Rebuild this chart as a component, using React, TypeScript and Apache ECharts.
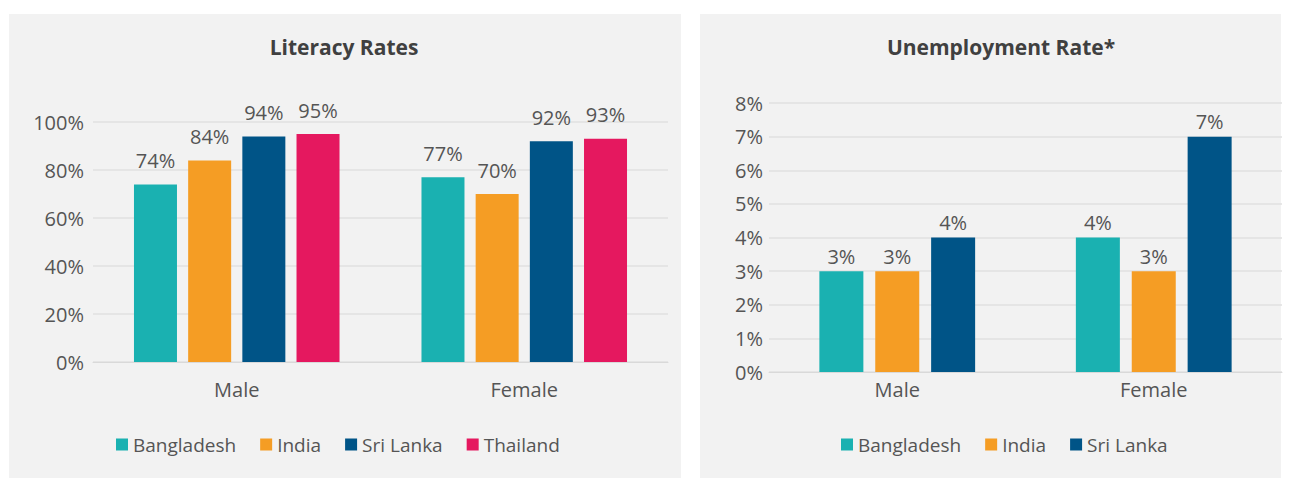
import React, { useEffect, useRef } from "react";
import * as echarts from "echarts";

const categories = ["Male", "Female"];
const litCountries = ["Bangladesh", "India", "Sri Lanka", "Thailand"];
const litBangladesh = [74, 77];
const litIndia = [84, 70];
const litSriLanka = [94, 92];
const litThailand = [95, 93];
const unCountries = ["Bangladesh", "India", "Sri Lanka"];
const unBangladesh = [3, 4];
const unIndia = [3, 3];
const unSriLanka = [4, 7];
const colors = ["#1ab1b1", "#f59d24", "#005487", "#e5185f"];

const TXT = "#555555";
const FONT = "Open Sans";

export default function App() {
  const ref = useRef<HTMLDivElement>(null);
  useEffect(() => {
    const chart = echarts.init(ref.current!, null, { renderer: "svg" });
    const mkLabel = (distance: number) => ({
      show: true,
      position: "top",
      distance,
      formatter: "{c}%",
      color: TXT,
      fontSize: 20,
      fontFamily: FONT,
    });
    const mkSeries = (name: string, data: number[], idx: number, color: string, bw: number, gap: string, dist: number) => ({
      type: "bar",
      name,
      data,
      xAxisIndex: idx,
      yAxisIndex: idx,
      barWidth: bw,
      barGap: gap,
      itemStyle: { color },
      label: mkLabel(dist),
    });
    const axisLabel = { color: TXT, fontSize: 20, fontFamily: FONT };
    const legendText = { color: TXT, fontSize: 19, fontFamily: FONT };
    chart.setOption({
      animation: false,
      backgroundColor: "#ffffff",
      graphic: [
        { type: "rect", shape: { x: 9, y: 14, width: 672, height: 464 }, style: { fill: "#f2f2f2" }, z: -10 },
        { type: "rect", shape: { x: 700, y: 14, width: 581, height: 464 }, style: { fill: "#f2f2f2" }, z: -10 },
      ],
      title: [
        { text: "Literacy Rates", left: 339, top: 31, textAlign: "center", textStyle: { color: "#404040", fontSize: 21, fontWeight: "bold", fontFamily: FONT } },
        { text: "Unemployment Rate*", left: 996, top: 31, textAlign: "center", textStyle: { color: "#404040", fontSize: 21, fontWeight: "bold", fontFamily: FONT } },
      ],
      legend: [
        {
          data: litCountries,
          left: 111,
          top: 430,
          itemWidth: 12,
          itemHeight: 12,
          itemGap: 24,
          icon: "rect",
          textStyle: legendText,
        },
        {
          data: unCountries.map((n) => ({ name: n + " " })),
          left: 836,
          top: 430,
          itemWidth: 12,
          itemHeight: 12,
          itemGap: 24,
          icon: "rect",
          formatter: (n: string) => n.trim(),
          textStyle: legendText,
        },
      ],
      grid: [
        { left: 93, top: 122, width: 575, height: 240 },
        { left: 769, top: 103, width: 513, height: 269 },
      ],
      xAxis: [0, 1].map((i) => ({
        type: "category",
        gridIndex: i,
        data: categories,
        axisLine: { lineStyle: { color: "#d9d9d9" } },
        axisTick: { show: false },
        axisLabel: { ...axisLabel, margin: i === 0 ? 17 : 7 },
      })),
      yAxis: [
        {
          type: "value",
          gridIndex: 0,
          min: 0,
          max: 100,
          interval: 20,
          axisLabel: { ...axisLabel, formatter: "{value}%", margin: 9 },
          splitLine: { lineStyle: { color: "#e0e0e0", width: 1.5 } },
          axisLine: { show: false },
        },
        {
          type: "value",
          gridIndex: 1,
          min: 0,
          max: 8,
          interval: 1,
          axisLabel: { ...axisLabel, formatter: "{value}%", margin: 6 },
          splitLine: { lineStyle: { color: "#e0e0e0", width: 1.5 } },
          axisLine: { show: false },
        },
      ],
      series: [
        mkSeries("Bangladesh", litBangladesh, 0, colors[0], 43, "26%", 14),
        mkSeries("India", litIndia, 0, colors[1], 43, "26%", 14),
        mkSeries("Sri Lanka", litSriLanka, 0, colors[2], 43, "26%", 14),
        mkSeries("Thailand", litThailand, 0, colors[3], 43, "26%", 14),
        mkSeries("Bangladesh ", unBangladesh, 1, colors[0], 44, "27%", 5),
        mkSeries("India ", unIndia, 1, colors[1], 44, "27%", 5),
        mkSeries("Sri Lanka ", unSriLanka, 1, colors[2], 44, "27%", 5),
      ],
    });
    return () => chart.dispose();
  }, []);
  return (
    <div style={{ position: "fixed", left: 0, top: 0, width: 1290, height: 480, background: "#fff" }}>
      <div ref={ref} style={{ width: 1290, height: 480 }} />
    </div>
  );
}
